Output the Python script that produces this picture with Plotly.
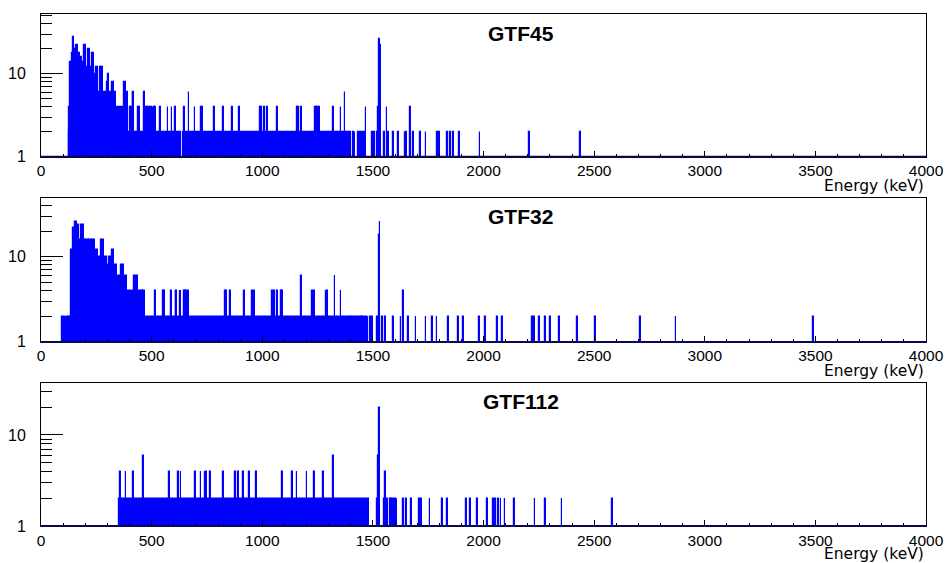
import plotly.graph_objects as go

BIN_KEV = 4  # histogram bin width (keV)

# ---------------- GTF45 ----------------
gtf45_prof_edges = [125, 133, 139, 143, 148, 154, 160, 166, 172, 178, 184, 190, 196, 205, 214, 223, 232,
                    241, 249, 256, 265, 271, 279, 298, 301, 309, 319, 331, 339, 377, 384, 389, 395]
gtf45_prof_counts = [4, 14, 18, 28, 20, 18, 22, 14, 18, 16, 10, 14, 22, 12, 20, 12, 18, 10, 12, 6,
                     12, 12, 6, 8, 10, 6, 8, 6, 4, 8, 4, 6]
gtf45_dense = [(125, 139), (143, 178), (182, 212), (216, 234), (238, 250), (254, 485), (489, 555),
               (559, 612), (616, 633), (640, 985), (989, 1060), (1065, 1075), (1079, 1188), (1192, 1341)]
gtf45_lines2 = [1348, 1359, 1366, 1381, 1389, 1397, 1412, 1419, 1434, 1443, 1455, 1461, 1499, 1507, 1522,
                1552, 1570, 1594, 1615, 1645, 1651, 1684, 1714, 1740, 1793, 1800, 1838, 1850, 1865, 1892,
                1984, 2209, 2438]
gtf45_lines4 = [404, 408, 440, 444, 475, 480, 490, 500, 506, 512, 517, 539, 574, 592, 606, 648, 696, 726,
                730, 783, 826, 866, 896, 994, 998, 1010, 1023, 1067, 1160, 1164, 1178, 1240, 1244, 1250,
                1258, 1321, 1356, 1469, 1564, 1672]
gtf45_lines6 = [416, 420, 466, 470, 669, 1374]
gtf45_peak_E = [1526, 1530, 1534]
gtf45_peak_C = [4, 26, 22]

# ---------------- GTF32 ----------------
gtf32_prof_edges = [136, 143, 154, 163, 170, 181, 193, 203, 218, 234, 244, 259, 271, 283, 298, 309, 319,
                    328, 343, 361, 373, 389, 419, 440, 470]
gtf32_prof_counts = [12, 22, 26, 24, 16, 24, 16, 16, 16, 16, 12, 10, 16, 10, 8, 10, 12, 8, 6, 8, 6, 4, 6, 4]
gtf32_dense = [(133, 736), (740, 1120), (1124, 1158), (1162, 1196), (1200, 1221), (1225, 1275),
               (1279, 1305), (1309, 1338), (1342, 1365), (1369, 1400)]
gtf32_lines2 = [98, 105, 113, 120, 128, 1405, 1412, 1420, 1430, 1440, 1448, 1455, 1462, 1470, 1478, 1490,
                1497, 1519, 1544, 1559, 1594, 1627, 1660, 1695, 1740, 1770, 1790, 1841, 1886, 1910, 1981,
                2011, 2064, 2087, 2222, 2230, 2254, 2279, 2302, 2344, 2426, 2508, 2709, 2870, 3490]
gtf32_lines4 = [460, 517, 520, 554, 557, 591, 610, 613, 628, 633, 648, 655, 658, 666, 832, 839, 856, 919,
                954, 964, 967, 1047, 1055, 1070, 1088, 1092, 1228, 1235, 1288, 1296, 1356, 1639]
gtf32_lines6 = [1178, 1329]
gtf32_peak_E = [1528, 1532]
gtf32_peak_C = [18, 26]

# ---------------- GTF112 ----------------
gtf112_prof_edges = []
gtf112_prof_counts = []
gtf112_dense = [(351, 367), (371, 586), (590, 638), (642, 698), (702, 718), (722, 796), (800, 827),
                (831, 857), (861, 1003), (1007, 1098), (1102, 1346), (1350, 1434), (1438, 1484)]
gtf112_lines2 = [1519, 1552, 1567, 1579, 1586, 1594, 1601, 1609, 1639, 1650, 1675, 1710, 1718, 1758, 1815,
                 1838, 1925, 1943, 1974, 2019, 2046, 2056, 2067, 2079, 2097, 2139, 2233, 2282, 2355, 2584]
gtf112_lines4 = [358, 384, 419, 580, 622, 633, 697, 723, 741, 746, 768, 826, 881, 892, 916, 942, 972, 1092,
                 1137, 1157, 1202, 1235, 1276, 1559]
gtf112_lines6 = [464, 1321]
gtf112_peak_E = [1524, 1528, 1532]
gtf112_peak_C = [6, 20, 20]

panel_titles = ["GTF45", "GTF32", "GTF112"]
x_tick_vals = [0, 500, 1000, 1500, 2000, 2500, 3000, 3500, 4000]
y_minor_vals = [2, 3, 4, 5, 6, 7, 8, 9, 20, 30, 40, 50]
y_top_log = [1.72, 1.694, 1.576]
y_domains = [[0.7212, 1.0], [0.3596, 0.6413], [0.0, 0.2801]]
energy_label_shift = [-29, -29, -28]

panels = [
    (gtf45_prof_edges, gtf45_prof_counts, gtf45_dense,
     {2: gtf45_lines2, 4: gtf45_lines4, 6: gtf45_lines6}, gtf45_peak_E, gtf45_peak_C),
    (gtf32_prof_edges, gtf32_prof_counts, gtf32_dense,
     {2: gtf32_lines2, 4: gtf32_lines4, 6: gtf32_lines6}, gtf32_peak_E, gtf32_peak_C),
    (gtf112_prof_edges, gtf112_prof_counts, gtf112_dense,
     {2: gtf112_lines2, 4: gtf112_lines4, 6: gtf112_lines6}, gtf112_peak_E, gtf112_peak_C),
]


def build_bars(edges, counts, dense, lines, peakE, peakC):
    xs, ws, ys = [], [], []
    for lo, hi in dense:
        xs.append((lo + hi) / 2); ws.append(hi - lo); ys.append(2)
    for lo, hi, c in zip(edges[:-1], edges[1:], counts):
        xs.append((lo + hi) / 2); ws.append(hi - lo); ys.append(c)
    for c, es in lines.items():
        for e in es:
            xs.append(e); ws.append(BIN_KEV); ys.append(c)
    for e, c in zip(peakE, peakC):
        xs.append(e); ws.append(BIN_KEV); ys.append(c)
    return xs, ws, ys


FONT = "Liberation Sans, Arial, Helvetica, sans-serif"
WIDE_FONT = "DejaVu Sans, Liberation Sans, sans-serif"
BLUE = "#0000ff"

fig = go.Figure()
layout = dict(
    width=946, height=563,
    margin=dict(l=41, r=20, t=14, b=37, autoexpand=False),
    paper_bgcolor="white", plot_bgcolor="white",
    showlegend=False, bargap=0,
    font=dict(family=FONT, color="black"),
    annotations=[], shapes=[],
)

for i, (pdata, title) in enumerate(zip(panels, panel_titles)):
    n = i + 1
    sfx = "" if n == 1 else str(n)
    xs, ws, ys = build_bars(*pdata)
    fig.add_trace(go.Bar(
        x=xs, y=ys, width=ws,
        marker=dict(color=BLUE, line=dict(color=BLUE, width=1.2)),
        xaxis=f"x{sfx}", yaxis=f"y{sfx}", hoverinfo="skip",
    ))
    layout[f"xaxis{sfx}"] = dict(
        domain=[0, 1], range=[0, 4000], anchor=f"y{sfx}", automargin=False,
        tickmode="array", tickvals=x_tick_vals, ticktext=[str(v) for v in x_tick_vals],
        ticks="inside", ticklen=6, tickcolor="black", tickwidth=1,
        minor=dict(dtick=100, tick0=0, ticks="inside", ticklen=3, tickcolor="black", showgrid=False),
        showgrid=False, zeroline=False,
        showline=True, linecolor="black", linewidth=1, mirror=True,
        tickfont=dict(size=15.5, family=FONT, color="black"),
        ticklabelstandoff=0,
    )
    layout[f"yaxis{sfx}"] = dict(
        domain=y_domains[i], type="log", range=[0, y_top_log[i]], anchor=f"x{sfx}", automargin=False,
        tickmode="array", tickvals=[1, 10], ticktext=["1", "10"],
        ticks="inside", ticklen=22, tickcolor="black", tickwidth=1,
        minor=dict(tickmode="array", tickvals=y_minor_vals, ticks="inside", ticklen=11,
                   tickcolor="black", showgrid=False),
        showgrid=False, zeroline=False,
        showline=True, linecolor="black", linewidth=1, mirror=True,
        tickfont=dict(size=16, family=FONT, color="black"),
        ticklabelstandoff=11,
    )
    layout["annotations"].append(dict(
        text=f"<b>{title}</b>", x=0.542, xref=f"x{sfx} domain", y=1, yref=f"y{sfx} domain",
        yshift=-19, xanchor="center", yanchor="middle", showarrow=False,
        font=dict(size=21, family=FONT, color="black"),
    ))
    layout["annotations"].append(dict(
        text="Energy (keV)", x=1, xref=f"x{sfx} domain", y=0, yref=f"y{sfx} domain",
        yshift=energy_label_shift[i], xanchor="right", yanchor="middle", showarrow=False,
        font=dict(size=15.5, family=WIDE_FONT, color="black"),
    ))
    # dark baseline (histogram floor drawn over the axis)
    layout["shapes"].append(dict(
        type="line", xref=f"x{sfx} domain", yref=f"y{sfx} domain", x0=0, x1=1, y0=0, y1=0,
        line=dict(color="#0a0a50", width=2), layer="above",
    ))

fig.update_layout(**layout)
fig.write_html("out.html")
